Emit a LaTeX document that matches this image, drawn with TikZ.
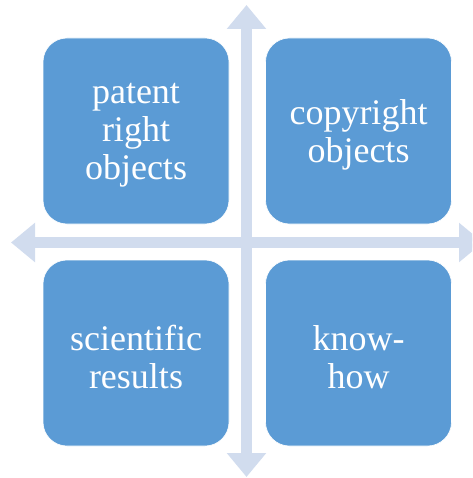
\documentclass[tikz,border=0pt]{standalone}
\usepackage{fontspec}
\setmainfont{Liberation Serif}
\usetikzlibrary{arrows.meta}
\definecolor{boxblue}{RGB}{91,155,213}
\definecolor{crossblue}{RGB}{209,220,238}

\begin{document}
\begin{tikzpicture}
	[x = 1pt, y = -1pt,
	cross/.style = {crossblue, line width = 11pt, {Triangle[width=38pt,length=24pt]}-{Triangle[width=38pt,length=24pt]}},
	quad/.style = {fill = boxblue, draw = white, line width = 0.6pt, rounded corners = 24pt,
		minimum width = 186pt, minimum height = 186pt, inner sep = 0pt},
	quadtext/.style = {text = white, align = center, yshift = -4pt, font = \fontsize{36}{38}\selectfont}]
	\useasboundingbox (0,0) rectangle (472,478);
	\clip (0,0) rectangle (472,478);
	% cross behind the boxes
	\coordinate (top) at (246.5,5);
	\coordinate (bottom) at (246.5,477);
	\coordinate (left) at (11,242.5);
	\coordinate (right) at (483,242.5);
	\draw [cross] (bottom) -- (top);
	\draw [cross] (left) -- (right);
	% the four quadrants
	\node [quad, label={[quadtext]center:patent\\right\\objects}] (patent) at (136,131) {};
	\node [quad, label={[quadtext]center:copyright\\objects}] (copyright) at (358.5,131) {};
	\node [quad, label={[quadtext]center:scientific\\results}] (science) at (136,353) {};
	\node [quad, label={[quadtext]center:know-\\how}] (knowhow) at (358.5,353) {};
\end{tikzpicture}
\end{document}
